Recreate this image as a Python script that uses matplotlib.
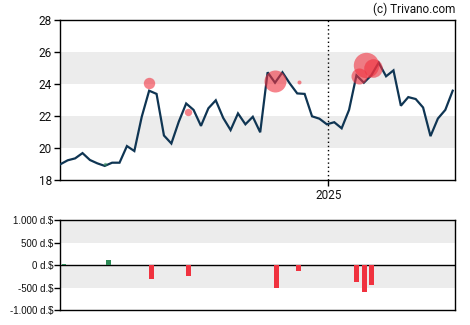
import matplotlib
matplotlib.use("Agg")
import matplotlib.pyplot as plt
import numpy as np

# ---- data ----
price = [19.0, 19.25, 19.37, 19.7, 19.27, 19.06, 18.9, 19.1, 19.1, 20.14,
         19.83, 21.97, 23.6, 23.4, 20.8, 20.3, 21.66, 22.8, 22.4, 21.4,
         22.5, 23.0, 21.9, 21.14, 22.18, 21.5, 21.97, 21.0, 24.75, 24.1,
         24.75, 24.05, 23.43, 23.4, 22.0, 21.85, 21.5, 21.63, 21.25, 22.4,
         24.56, 24.1, 24.56, 25.35, 24.5, 24.87, 22.66, 23.2, 23.08, 22.55,
         20.76, 21.86, 22.4, 23.6]
year_tick_pos = 36.2
year_tick_label = "2025"

bubble_x = [6.0, 12.0, 17.2, 29.0, 32.2, 40.3, 41.3, 42.3]
bubble_y = [19.0, 24.1, 22.3, 24.2, 24.13, 24.5, 25.2, 25.0]
bubble_r = [1.7, 5.7, 3.7, 11.0, 2.0, 8.0, 12.7, 9.3]   # radius in px
bubble_kind = ["buy", "sell", "sell", "sell", "sell", "sell", "sell", "sell"]

bar_x = [0.5, 6.5, 12.3, 17.3, 29.2, 32.2, 40.0, 41.1, 42.0]
bar_v = [30, 115, -305, -237, -505, -120, -385, -608, -453]

price_ticks = [18, 20, 22, 24, 26, 28]
flow_ticks = [-1000, -500, 0, 500, 1000]
flow_labels = ["-1.000 d.$", "-500 d.$", "0 d.$", "500 d.$", "1.000 d.$"]

# ---- style ----
LINE = "#0f3553"
RED = "#f0323f"
GREEN = "#2e8b57"
BAND = "#ececec"

fig = plt.figure(figsize=(4.7, 3.25), dpi=100)
W, H = 470, 325

def ax_rect(l, t, r, b):
    return [l / W, 1 - b / H, (r - l) / W, (b - t) / H]

ax = fig.add_axes(ax_rect(60.3, 20.3, 455.3, 180.3))
ax2 = fig.add_axes(ax_rect(60.3, 220.3, 455.3, 310.0))

xmax = 53.35
x = np.arange(len(price))

# top chart
ax.axhspan(20, 22, color=BAND, lw=0, zorder=0)
ax.axhspan(24, 26, color=BAND, lw=0, zorder=0)
ax.axvline(year_tick_pos, color="black", lw=1, ls=(0, (1, 2)), zorder=1)
ax.plot(x, price, color=LINE, lw=1.6, zorder=3, solid_joinstyle="miter")
px2pt = 72 / 100
for bx, by, br, bk in zip(bubble_x, bubble_y, bubble_r, bubble_kind):
    c = RED if bk == "sell" else GREEN
    ax.scatter([bx], [by], s=(2 * br * px2pt) ** 2, color=c, alpha=0.6,
               lw=0, zorder=4)
ax.set_xlim(0, xmax)
ax.set_ylim(18, 28)
ax.set_yticks(price_ticks)
ax.set_yticklabels([str(t) for t in price_ticks], fontfamily="Roboto",
                   fontsize=8.5, color="#111111")
ax.set_xticks([year_tick_pos])
ax.set_xticklabels([year_tick_label], fontfamily="Roboto", fontsize=8.5,
                   color="#111111")
ax.tick_params(direction="out", length=4, width=1, pad=2)
for s in ax.spines.values():
    s.set_linewidth(1)
    s.set_color("black")

# bottom chart
ax2.axhspan(500, 1000, color=BAND, lw=0, zorder=0)
ax2.axhspan(-500, 0, color=BAND, lw=0, zorder=0)
ax2.axhline(0, color="black", lw=1, zorder=2)
cols = [GREEN if v > 0 else RED for v in bar_v]
ax2.bar(bar_x, bar_v, width=0.63, color=cols, zorder=3)
ax2.set_xlim(0, xmax)
ax2.set_ylim(-1000, 1000)
ax2.set_yticks(flow_ticks)
ax2.set_yticklabels(flow_labels, fontfamily="Liberation Sans", fontsize=7,
                    color="#111111")
ax2.set_xticks([])
ax2.tick_params(direction="out", length=4, width=1, pad=1)
for s in ax2.spines.values():
    s.set_linewidth(1)
    s.set_color("black")

fig.text(455 / W, 1 - 9 / H, "(c) Trivano.com", ha="right", va="center",
         fontfamily="Roboto", fontsize=8.5, color="#111111")

fig.savefig("out.png", dpi=100)
